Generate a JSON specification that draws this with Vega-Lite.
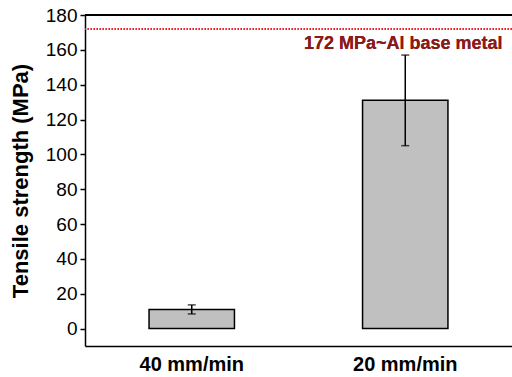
{
  "$schema": "https://vega.github.io/schema/vega-lite/v6.json",
  "width": 427,
  "height": 331,
  "autosize": "none",
  "padding": {"left": 85, "top": 15, "right": 0, "bottom": 31},
  "background": "white",
  "config": {
    "view": {"stroke": null},
    "font": "Liberation Sans"
  },
  "data": {
    "values": [
      {"speed": "40 mm/min", "strength": 11, "low": 8.4, "high": 13.6},
      {"speed": "20 mm/min", "strength": 131, "low": 105, "high": 157}
    ]
  },
  "layer": [
    {
      "mark": {"type": "bar", "fill": "#c0c0c0", "stroke": "black", "strokeWidth": 1.5},
      "encoding": {
        "x": {
          "field": "speed",
          "type": "nominal",
          "sort": ["40 mm/min", "20 mm/min"],
          "scale": {"paddingInner": 0.6, "paddingOuter": 0.3},
          "axis": {
            "title": null,
            "labelAngle": 0,
            "labelFontSize": 20,
            "labelFontWeight": "bold",
            "labelColor": "black",
            "labelPadding": 8,
            "ticks": false,
            "domainColor": "black",
            "domainWidth": 1.5
          }
        },
        "y": {
          "field": "strength",
          "type": "quantitative",
          "scale": {"domain": [-10, 180], "nice": false, "zero": false},
          "axis": {
            "title": "Tensile strength (MPa)",
            "titleFontSize": 22,
            "titleFontWeight": "bold",
            "titleColor": "black",
            "titlePadding": 13,
            "values": [0, 20, 40, 60, 80, 100, 120, 140, 160, 180],
            "tickCount": 20,
            "labelOverlap": false,
            "labelFontSize": 19,
            "labelColor": "black",
            "labelPadding": 3,
            "tickSize": 5,
            "tickColor": "black",
            "tickWidth": 1.5,
            "domainColor": "black",
            "domainWidth": 1.5,
            "grid": false
          }
        }
      }
    },
    {
      "mark": {"type": "rule", "color": "black", "strokeWidth": 1.5},
      "encoding": {
        "x": {"field": "speed", "type": "nominal", "sort": ["40 mm/min", "20 mm/min"]},
        "y": {"field": "low", "type": "quantitative"},
        "y2": {"field": "high"}
      }
    },
    {
      "mark": {"type": "tick", "color": "black", "size": 8, "thickness": 1.5, "orient": "horizontal"},
      "encoding": {
        "x": {"field": "speed", "type": "nominal", "sort": ["40 mm/min", "20 mm/min"]},
        "y": {"field": "low", "type": "quantitative"}
      }
    },
    {
      "mark": {"type": "tick", "color": "black", "size": 8, "thickness": 1.5, "orient": "horizontal"},
      "encoding": {
        "x": {"field": "speed", "type": "nominal", "sort": ["40 mm/min", "20 mm/min"]},
        "y": {"field": "high", "type": "quantitative"}
      }
    },
    {
      "mark": {"type": "rule", "color": "black", "strokeWidth": 2},
      "encoding": {"y": {"datum": 180}}
    },
    {
      "mark": {"type": "rule", "color": "#e8191f", "strokeWidth": 1.5, "strokeDash": [1.5, 1.5]},
      "encoding": {"y": {"datum": 172}}
    },
    {
      "mark": {"type": "text", "text": "172 MPa~Al base metal", "color": "#8b1a1a", "fontSize": 18, "fontWeight": "bold", "align": "center", "baseline": "middle", "dy": 15, "dx": -2},
      "encoding": {
        "x": {"datum": "20 mm/min"},
        "y": {"datum": 172}
      }
    }
  ]
}
